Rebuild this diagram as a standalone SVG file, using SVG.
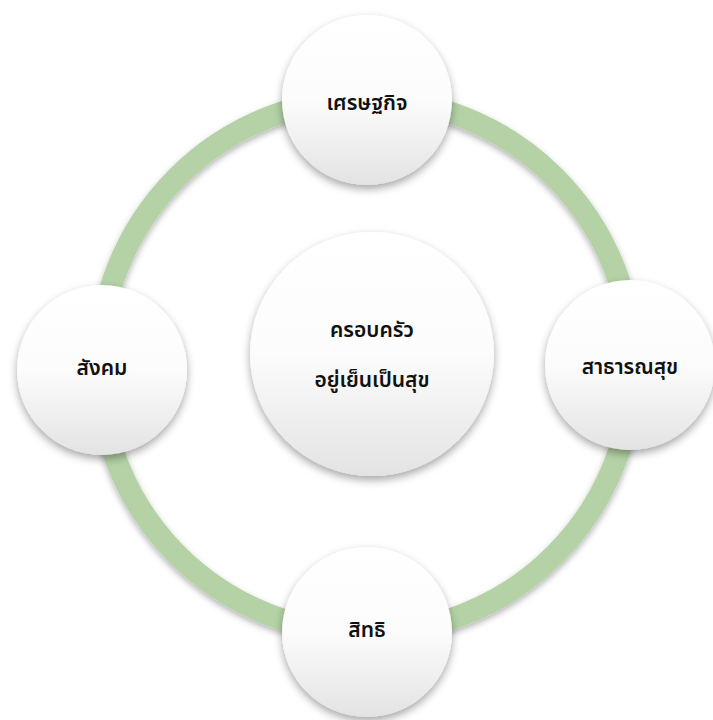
<svg xmlns="http://www.w3.org/2000/svg" width="713" height="720" viewBox="0 0 713 720">
<style>
.node{fill:url(#g);filter:url(#sh)}
.lbl{font-family:"Noto Sans Thai","Noto Sans","DejaVu Sans",sans-serif;font-size:21px;font-weight:600;fill:#111;text-anchor:middle;dominant-baseline:central}
</style>
<defs>
<linearGradient id="g" x1="0" y1="0" x2="0" y2="1">
<stop offset="0" stop-color="#ffffff"/>
<stop offset="0.5" stop-color="#fcfcfc"/>
<stop offset="1" stop-color="#e3e3e3"/>
</linearGradient>
<filter id="sh" x="-20%" y="-20%" width="140%" height="150%">
<feDropShadow dx="0" dy="4" stdDeviation="4" flood-color="#000" flood-opacity="0.35"/>
</filter>
<filter id="rsh" x="-10%" y="-10%" width="120%" height="120%">
<feDropShadow dx="0" dy="3" stdDeviation="3" flood-color="#000" flood-opacity="0.3"/>
</filter>
</defs>
<rect width="713" height="720" fill="#fff"/>
<g id="connectors">
<circle cx="366" cy="366" r="267" fill="none" stroke="#b4d2a6" stroke-width="22" filter="url(#rsh)"/>
</g>
<g id="node-center">
<circle class="node" cx="372" cy="354" r="122"/>
<text class="lbl" x="372" y="330">ครอบครัว</text>
<text class="lbl" x="372" y="380">อยู่เย็นเป็นสุข</text>
</g>
<g id="node-top">
<circle class="node" cx="367" cy="100" r="85"/>
<text class="lbl" x="367" y="103">เศรษฐกิจ</text>
</g>
<g id="node-right">
<circle class="node" cx="630" cy="365" r="85"/>
<text class="lbl" x="630" y="367">สาธารณสุข</text>
</g>
<g id="node-bottom">
<circle class="node" cx="367" cy="632" r="85"/>
<text class="lbl" x="367" y="630">สิทธิ</text>
</g>
<g id="node-left">
<circle class="node" cx="102" cy="370" r="85"/>
<text class="lbl" x="102" y="368">สังคม</text>
</g>
</svg>
